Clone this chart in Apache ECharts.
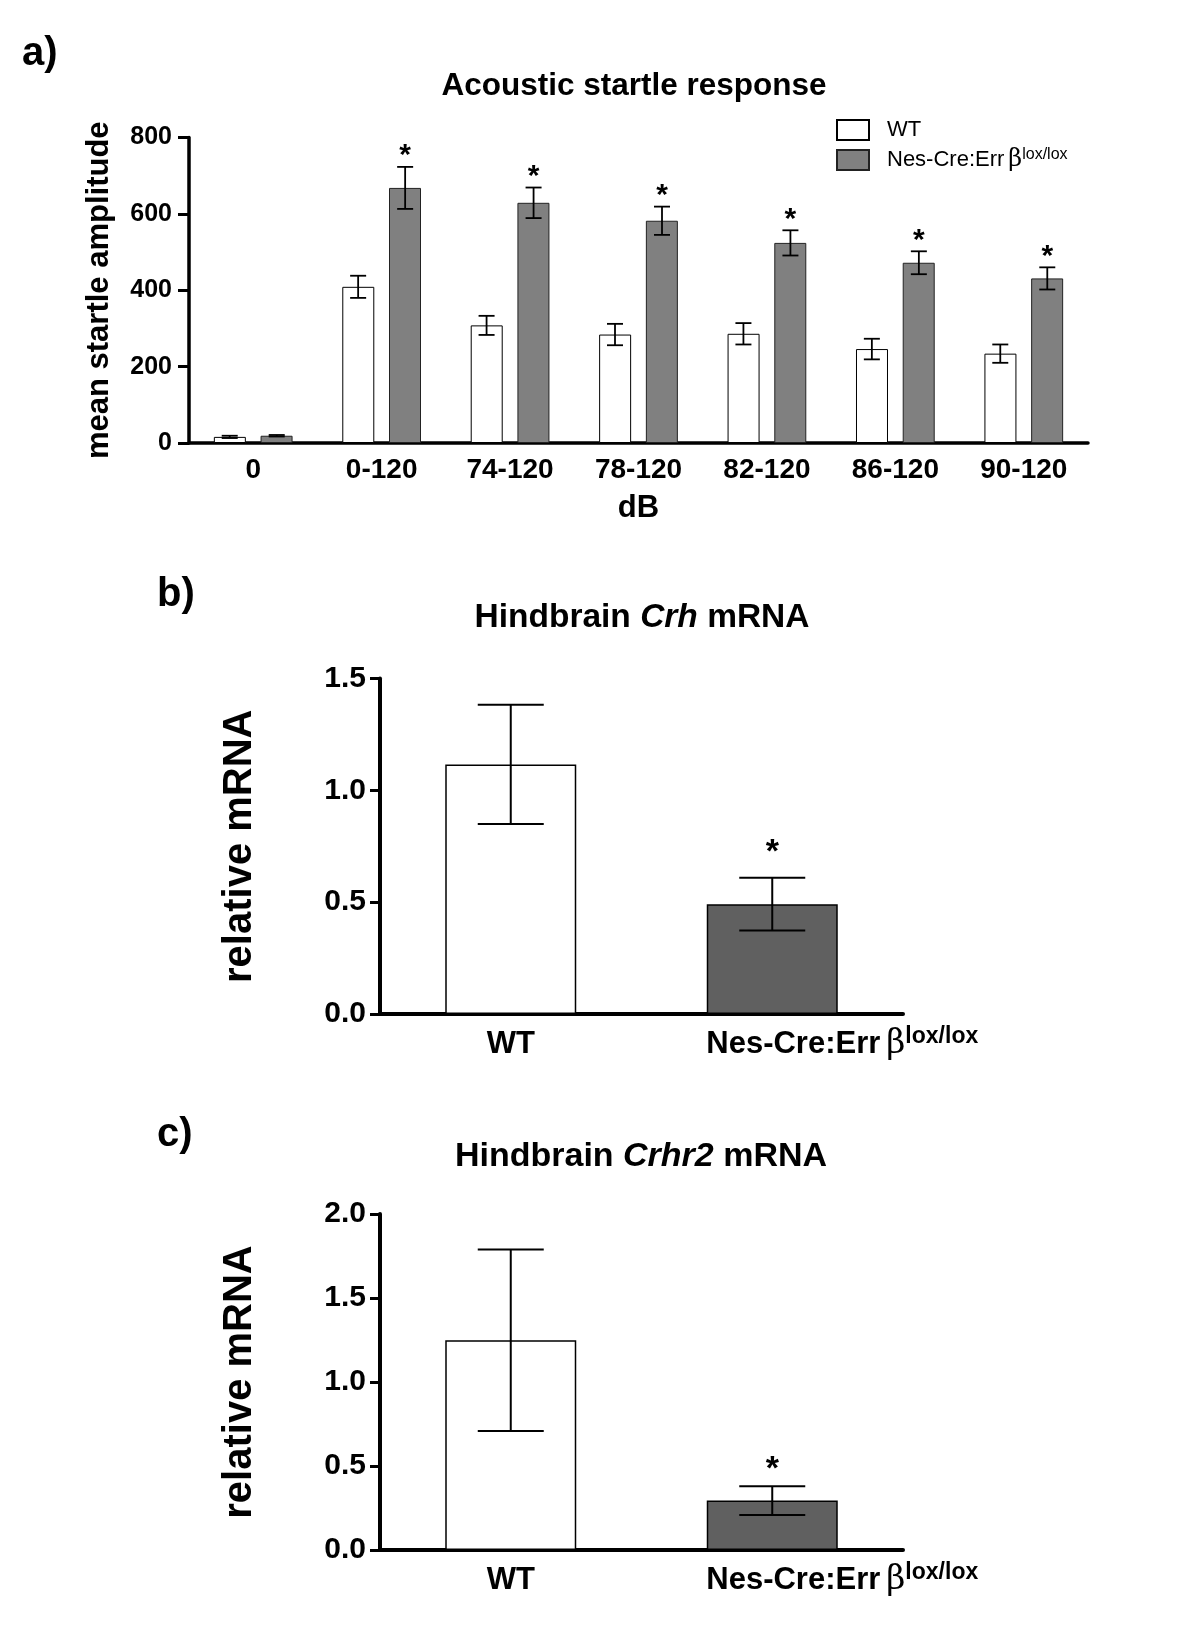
<!DOCTYPE html>
<html>
<head>
<meta charset="utf-8">
<script src="https://cdn.jsdelivr.net/npm/echarts@6.0.0/dist/echarts.min.js"></script>
<style>
html,body{margin:0;padding:0;background:#fff;}
#chart{width:1200px;height:1636px;}
</style>
</head>
<body>
<div id="chart"></div>
<script>
// ---------- data ----------
const genotypes = ['WT', 'Nes-Cre:Errβ'];
const supText = 'lox/lox';

// (a) acoustic startle
const dbCategories = ['0', '0-120', '74-120', '78-120', '82-120', '86-120', '90-120'];
const wtStartle = [16, 409, 308, 284, 286, 246, 234];
const wtStartleErr = [3, 29, 25, 28, 28, 27, 24];
const koStartle = [19, 668, 629, 582, 524, 472, 431];
const koStartleErr = [2, 55, 40, 37, 33, 30, 29];
const koStartleSig = [0, 1, 1, 1, 1, 1, 1];
const startleTicks = [0, 200, 400, 600, 800];

// (b) hindbrain Crh mRNA
const crhMean = [1.116, 0.491];
const crhErr = [0.267, 0.118];
const crhSig = [0, 1];
const crhTicks = [0.0, 0.5, 1.0, 1.5];

// (c) hindbrain Crhr2 mRNA
const crhr2Mean = [1.248, 0.294];
const crhr2Err = [0.54, 0.086];
const crhr2Sig = [0, 1];
const crhr2Ticks = [0.0, 0.5, 1.0, 1.5, 2.0];

// ---------- styling ----------
const FONT = "'Liberation Sans', Arial, Helvetica, sans-serif";
const koGrayA = '#808080';
const koGrayB = '#606060';

function errorRenderer(offset, capW, lw, starSize, starGap) {
  return function (params, api) {
    const x = api.value(0), m = api.value(1), e = api.value(2), s = api.value(3);
    const top = api.coord([x, m + e]);
    const bot = api.coord([x, m - e]);
    const cx = top[0] + offset;
    const st = { stroke: '#000', lineWidth: lw };
    const children = [
      { type: 'line', shape: { x1: cx, y1: top[1], x2: cx, y2: bot[1] }, style: st },
      { type: 'line', shape: { x1: cx - capW / 2, y1: top[1], x2: cx + capW / 2, y2: top[1] }, style: st },
      { type: 'line', shape: { x1: cx - capW / 2, y1: bot[1], x2: cx + capW / 2, y2: bot[1] }, style: st }
    ];
    if (s) {
      children.push({
        type: 'text', x: cx, y: top[1] - starGap,
        style: { text: '*', fontSize: starSize, fontWeight: 'bold', fontFamily: FONT,
                 align: 'center', verticalAlign: 'middle', fill: '#000' }
      });
    }
    return { type: 'group', children: children };
  };
}

function errData(means, errs, sigs) {
  return means.map((m, i) => [i, m, errs[i], sigs[i]]);
}

const koLabelRich = {
  n: { fontSize: 31, fontWeight: 'bold', fontFamily: FONT, lineHeight: 38, color: '#000' },
  g: { fontSize: 33, fontWeight: 'normal', fontFamily: "'DejaVu Serif', serif", lineHeight: 38, color: '#000', padding: [0, 0, 0, 6] },
  s: { fontSize: 23, fontWeight: 'bold', fontFamily: FONT, lineHeight: 18, verticalAlign: 'top', color: '#000' },
  sp: { width: 140, lineHeight: 38 }
};

function genoLabel(v) {
  if (v === genotypes[0]) return '{n|' + v + '}';
  return '{sp| }{n|Nes-Cre:Err}{g|β}{s|' + supText + '}';
}

function mRNAyAxis(gridIndex, ticks) {
  return {
    type: 'value', gridIndex: gridIndex,
    min: ticks[0], max: ticks[ticks.length - 1], interval: ticks[1] - ticks[0],
    splitLine: { show: false },
    axisLine: { show: true, lineStyle: { color: '#000', width: 4 } },
    axisTick: { show: true, length: 10, lineStyle: { color: '#000', width: 3 } },
    axisLabel: { fontSize: 30, fontWeight: 'bold', fontFamily: FONT, color: '#000', margin: 14,
                 formatter: v => v.toFixed(1) },
    name: 'relative mRNA', nameLocation: 'middle', nameGap: 120,
    nameTextStyle: { fontSize: 40, fontWeight: 'bold', fontFamily: FONT, color: '#000' }
  };
}

function genoXAxis(gridIndex) {
  return {
    type: 'category', gridIndex: gridIndex, data: genotypes,
    axisLine: { show: true, lineStyle: { color: '#000', width: 4 } },
    axisTick: { show: false },
    axisLabel: { margin: 11, formatter: genoLabel, rich: koLabelRich, interval: 0 }
  };
}

function genoBars(gridIndex, means) {
  return {
    type: 'bar', xAxisIndex: gridIndex, yAxisIndex: gridIndex, barWidth: 131,
    data: means.map((v, i) => ({
      value: v,
      itemStyle: { color: i === 0 ? '#ffffff' : koGrayB, borderColor: '#000', borderWidth: 1.5 }
    })),
    silent: true
  };
}

const chart = echarts.init(document.getElementById('chart'), null, { renderer: 'canvas' });

const titleRich = function (size) {
  return {
    n: { fontSize: size, fontWeight: 'bold', fontFamily: FONT, fill: '#000' },
    i: { fontSize: size, fontWeight: 'bold', fontStyle: 'italic', fontFamily: FONT, fill: '#000' }
  };
};

const option = {
  backgroundColor: '#ffffff',
  animation: false,
  textStyle: { fontFamily: FONT },
  grid: [
    { left: 189, top: 137.5, width: 899, height: 305.5, outerBoundsMode: 'none' },
    { left: 380, top: 678.5, width: 523, height: 335.5, outerBoundsMode: 'none' },
    { left: 380, top: 1214, width: 523, height: 336, outerBoundsMode: 'none' }
  ],
  legend: {
    data: genotypes, orient: 'vertical', left: 831, top: 114, icon: 'rect',
    itemWidth: 32, itemHeight: 20, itemGap: 6, selectedMode: false,
    formatter: function (name) {
      if (name === genotypes[0]) return '{n|' + name + '}';
      return '{n|Nes-Cre:Err}{g|β}{s|' + supText + '}';
    },
    textStyle: {
      padding: [0, 0, 0, 13],
      rich: {
        n: { fontSize: 22, fontFamily: FONT, lineHeight: 26, color: '#000' },
        g: { fontSize: 24, fontFamily: "'DejaVu Serif', serif", lineHeight: 26, color: '#000', padding: [0, 0, 0, 4] },
        s: { fontSize: 16, fontFamily: FONT, lineHeight: 10, verticalAlign: 'top', color: '#000' }
      }
    }
  },
  xAxis: [
    {
      type: 'category', gridIndex: 0, data: dbCategories,
      axisLine: { show: true, lineStyle: { color: '#000', width: 3.5 } },
      axisTick: { show: false },
      axisLabel: { fontSize: 28, fontWeight: 'bold', fontFamily: FONT, color: '#000', margin: 13, interval: 0 },
      name: 'dB', nameLocation: 'middle', nameGap: 50,
      nameTextStyle: { fontSize: 31, fontWeight: 'bold', fontFamily: FONT, color: '#000' }
    },
    genoXAxis(1),
    genoXAxis(2)
  ],
  yAxis: [
    {
      type: 'value', gridIndex: 0,
      min: startleTicks[0], max: startleTicks[startleTicks.length - 1], interval: startleTicks[1] - startleTicks[0],
      splitLine: { show: false },
      axisLine: { show: true, lineStyle: { color: '#000', width: 3.5 } },
      axisTick: { show: true, length: 11, lineStyle: { color: '#000', width: 3 } },
      axisLabel: { fontSize: 25, fontWeight: 'bold', fontFamily: FONT, color: '#000', margin: 17 },
      name: 'mean startle amplitude', nameLocation: 'middle', nameGap: 74,
      nameTextStyle: { fontSize: 31, fontWeight: 'bold', fontFamily: FONT, color: '#000' }
    },
    mRNAyAxis(1, crhTicks),
    mRNAyAxis(2, crhr2Ticks)
  ],
  series: [
    {
      name: genotypes[0], type: 'bar', xAxisIndex: 0, yAxisIndex: 0,
      barWidth: 32, barGap: '46%', data: wtStartle,
      itemStyle: { color: '#ffffff', borderColor: '#000', borderWidth: 1 }
    },
    {
      name: genotypes[1], type: 'bar', xAxisIndex: 0, yAxisIndex: 0,
      barWidth: 32, barGap: '46%', data: koStartle,
      itemStyle: { color: koGrayA, borderColor: '#222', borderWidth: 1 }
    },
    {
      type: 'custom', xAxisIndex: 0, yAxisIndex: 0, z: 5,
      renderItem: errorRenderer(-23.5, 16, 1.8, 30, 11),
      data: errData(wtStartle, wtStartleErr, wtStartle.map(() => 0)),
      encode: { x: 0, y: 1 }, silent: true
    },
    {
      type: 'custom', xAxisIndex: 0, yAxisIndex: 0, z: 5,
      renderItem: errorRenderer(23.5, 16, 1.8, 30, 11),
      data: errData(koStartle, koStartleErr, koStartleSig),
      encode: { x: 0, y: 1 }, silent: true
    },
    genoBars(1, crhMean),
    {
      type: 'custom', xAxisIndex: 1, yAxisIndex: 1, z: 5,
      renderItem: errorRenderer(0, 66, 2, 34, 25),
      data: errData(crhMean, crhErr, crhSig),
      encode: { x: 0, y: 1 }, silent: true
    },
    genoBars(2, crhr2Mean),
    {
      type: 'custom', xAxisIndex: 2, yAxisIndex: 2, z: 5,
      renderItem: errorRenderer(0, 66, 2, 34, 17),
      data: errData(crhr2Mean, crhr2Err, crhr2Sig),
      encode: { x: 0, y: 1 }, silent: true
    }
  ],
  graphic: [
    { type: 'text', x: 22, y: 54, style: { text: 'a)', fontSize: 40, fontWeight: 'bold', fontFamily: FONT, fill: '#000', verticalAlign: 'middle' } },
    { type: 'text', x: 157, y: 595, style: { text: 'b)', fontSize: 40, fontWeight: 'bold', fontFamily: FONT, fill: '#000', verticalAlign: 'middle' } },
    { type: 'text', x: 157, y: 1135, style: { text: 'c)', fontSize: 40, fontWeight: 'bold', fontFamily: FONT, fill: '#000', verticalAlign: 'middle' } },
    { type: 'text', x: 634, y: 86, style: { text: 'Acoustic startle response', fontSize: 31.5, fontWeight: 'bold', fontFamily: FONT, fill: '#000', align: 'center', verticalAlign: 'middle' } },
    { type: 'text', x: 642, y: 618, style: {
        text: '{n|Hindbrain }{i|Crh}{n| mRNA}', align: 'center', verticalAlign: 'middle', rich: titleRich(33.5) } },
    { type: 'text', x: 641, y: 1157, style: {
        text: '{n|Hindbrain }{i|Crhr2}{n| mRNA}', align: 'center', verticalAlign: 'middle', rich: titleRich(34) } }
  ]
};

chart.setOption(option);
</script>
</body>
</html>
